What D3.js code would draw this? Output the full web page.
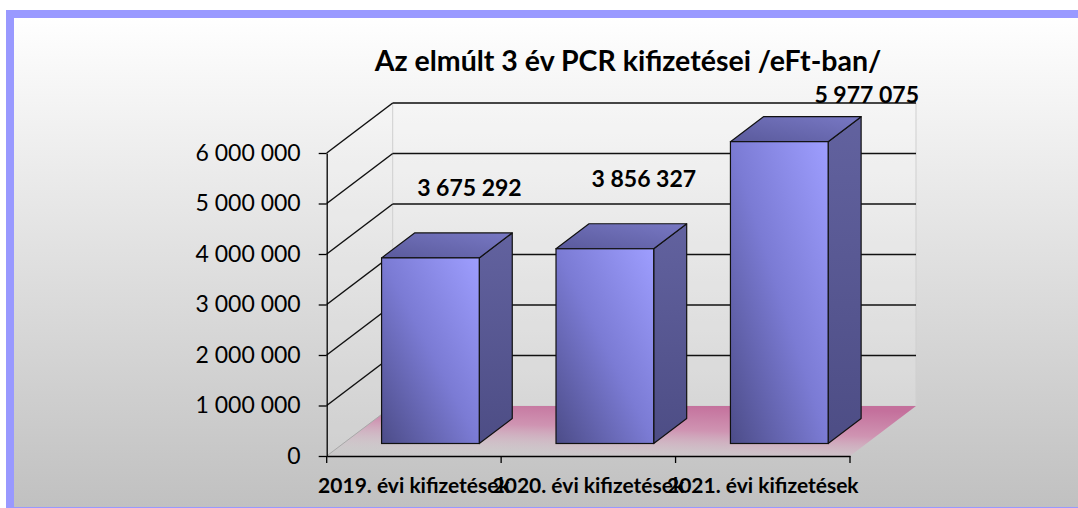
<!DOCTYPE html>
<html>
<head>
<meta charset="utf-8">
<script src="https://cdn.jsdelivr.net/npm/d3@7"></script>
<style>
	body { margin: 0; background: #ffffff; }
	svg { display: block; }
	.tick text { font-family: Lato, sans-serif; fill: #000; }
</style>
</head>
<body>
<svg id="chart"></svg>
<script>
// chart values
let categories = ['2019. évi kifizetések', '2020. évi kifizetések', '2021. évi kifizetések'];
let payments = [3675292, 3856327, 5977075];
let yTicks = [0, 1000000, 2000000, 3000000, 4000000, 5000000, 6000000];
let title = 'Az elmúlt 3 év PCR kifizetései /eFt-ban/';

let width = 1078, height = 508;
let plotLeft = 326.7, plotRight = 850, plotBottom = 456, plotTop = 153;
// 3d depth of the plot (back wall offset)
let depthX = 66, depthY = -50;
let xScale, yScale;
let svg;

let fmt = (d) => d3.format(',')(d).replace(/,/g, ' ');

function makeChart() {
	svg = d3.select('#chart')
		.attr('width', width)
		.attr('height', height);

	let defs = svg.append('defs');

	let bg = defs.append('linearGradient').attr('id', 'bg')
		.attr('x1', 0).attr('y1', 0).attr('x2', 0).attr('y2', 1);
	bg.append('stop').attr('offset', 0).attr('stop-color', '#ffffff');
	bg.append('stop').attr('offset', 1).attr('stop-color', '#c0c0c0');

	let floor = defs.append('linearGradient').attr('id', 'floor')
		.attr('x1', 0.7).attr('y1', 0).attr('x2', 0.3).attr('y2', 1);
	floor.append('stop').attr('offset', 0).attr('stop-color', '#c4709c');
	floor.append('stop').attr('offset', 0.45).attr('stop-color', '#cf94b2');
	floor.append('stop').attr('offset', 1).attr('stop-color', '#d8d0d4').attr('stop-opacity', 0.2);

	let front = defs.append('linearGradient').attr('id', 'front')
		.attr('x1', 0).attr('y1', 1).attr('x2', 1).attr('y2', 0);
	front.append('stop').attr('offset', 0).attr('stop-color', '#4c4c88');
	front.append('stop').attr('offset', 0.5).attr('stop-color', '#7b7bd4');
	front.append('stop').attr('offset', 1).attr('stop-color', '#9e9eff');

	let side = defs.append('linearGradient').attr('id', 'side')
		.attr('x1', 0).attr('y1', 0).attr('x2', 0).attr('y2', 1);
	side.append('stop').attr('offset', 0).attr('stop-color', '#62629f');
	side.append('stop').attr('offset', 1).attr('stop-color', '#4d4d85');

	let topFace = defs.append('linearGradient').attr('id', 'topface')
		.attr('x1', 0).attr('y1', 1).attr('x2', 1).attr('y2', 0);
	topFace.append('stop').attr('offset', 0).attr('stop-color', '#5a5a9c');
	topFace.append('stop').attr('offset', 1).attr('stop-color', '#7878c4');

	// frame
	svg.append('rect')
		.attr('x', 10).attr('y', 14)
		.attr('width', 1100).attr('height', 497)
		.attr('fill', 'url(#bg)')
		.attr('stroke', '#9999ff')
		.attr('stroke-width', 8);

	xScale = d3.scaleBand()
		.domain(categories)
		.range([plotLeft, plotRight])
		.padding(0);

	yScale = d3.scaleLinear()
		.domain([0, 6000000])
		.range([plotBottom, plotTop]);

	let y0 = yScale(0), yTop = yScale(6000000);

	// walls
	svg.append('path')
		.attr('d', `M${plotLeft},${y0}L${plotLeft},${yTop}L${plotLeft + depthX},${yTop + depthY}L${plotLeft + depthX},${y0 + depthY}Z`)
		.attr('fill', '#ffffff').attr('fill-opacity', 0.15);
	svg.append('rect')
		.attr('x', plotLeft + depthX).attr('y', yTop + depthY)
		.attr('width', plotRight - plotLeft).attr('height', y0 - yTop)
		.attr('fill', '#ffffff').attr('fill-opacity', 0.2)
		.attr('stroke', '#cfcfcf').attr('stroke-width', 1);

	// floor
	svg.append('path')
		.attr('d', `M${plotLeft},${y0}L${plotRight},${y0}L${plotRight + depthX},${y0 + depthY}L${plotLeft + depthX},${y0 + depthY}Z`)
		.attr('fill', 'url(#floor)');
	svg.append('line')
		.attr('x1', plotLeft).attr('y1', y0)
		.attr('x2', plotLeft + depthX).attr('y2', y0 + depthY)
		.attr('stroke', '#a8a8a8').attr('stroke-width', 1);

	// gridlines: left wall diagonals and back wall
	let grid = yTicks.filter(d => d > 0);
	svg.selectAll('.gridside').data(grid).enter().append('line')
		.attr('class', 'gridside')
		.attr('x1', plotLeft).attr('y1', d => yScale(d))
		.attr('x2', plotLeft + depthX).attr('y2', d => yScale(d) + depthY)
		.attr('stroke', '#111').attr('stroke-width', 1.5);
	svg.selectAll('.gridback').data(grid).enter().append('line')
		.attr('class', 'gridback')
		.attr('x1', plotLeft + depthX).attr('y1', d => yScale(d) + depthY)
		.attr('x2', plotRight + depthX).attr('y2', d => yScale(d) + depthY)
		.attr('stroke', '#111').attr('stroke-width', 1.5);

	// axes
	let yAxis = d3.axisLeft(yScale)
		.tickValues(yTicks)
		.tickFormat(fmt)
		.tickSize(8)
		.tickSizeOuter(0)
		.tickPadding(18);
	let yAxisGroup = svg.append('g')
		.attr('transform', `translate(${plotLeft},0)`)
		.call(yAxis);
	yAxisGroup.selectAll('text').style('font-size', '23px');
	yAxisGroup.selectAll('line, path').attr('stroke', '#000').attr('stroke-width', 1.3);

	let xAxis = d3.axisBottom(xScale).tickSize(0).tickSizeOuter(0);
	let xAxisGroup = svg.append('g')
		.attr('transform', `translate(0,${y0})`)
		.call(xAxis);
	xAxisGroup.select('.domain').attr('stroke', '#000').attr('stroke-width', 1.3);
	xAxisGroup.selectAll('text')
		.attr('y', 37).attr('dy', null)
		.style('font-size', '21px')
		.style('font-weight', 'bold');

	let edges = [xScale(categories[0])].concat(categories.map(c => xScale(c) + xScale.bandwidth()));
	xAxisGroup.selectAll('.edge').data(edges).enter().append('line')
		.attr('class', 'edge')
		.attr('x1', d => d).attr('x2', d => d)
		.attr('y1', 0).attr('y2', 7)
		.attr('stroke', '#000').attr('stroke-width', 1.3);

	// title
	svg.append('text')
		.attr('x', 628).attr('y', 71)
		.attr('text-anchor', 'middle')
		.style('font-family', 'Lato, sans-serif')
		.style('font-weight', 'bold')
		.style('font-size', '28.5px')
		.text(title);
}

function drawBars() {
	let bw = xScale.bandwidth();
	let barW = bw * 0.56;
	let d0 = 0.25, d1 = 0.75;
	let sx = depthX * (d1 - d0), sy = depthY * (d1 - d0);

	let data = categories.map((c, i) => {
		let x0 = xScale(c) + (bw - barW) / 2 + depthX * d0;
		let yb = yScale(0) + depthY * d0;
		let yt = yScale(payments[i]) + depthY * d0;
		return { cat: c, value: payments[i], x0: x0, x1: x0 + barW, yb: yb, yt: yt };
	});

	let bars = svg.selectAll('.bar').data(data).enter().append('g').attr('class', 'bar');

	bars.append('path')
		.attr('d', d => `M${d.x1},${d.yt}L${d.x1 + sx},${d.yt + sy}L${d.x1 + sx},${d.yb + sy}L${d.x1},${d.yb}Z`)
		.attr('fill', 'url(#side)')
		.attr('stroke', '#111').attr('stroke-width', 1.2).attr('stroke-linejoin', 'round');

	bars.append('path')
		.attr('d', d => `M${d.x0},${d.yt}L${d.x0 + sx},${d.yt + sy}L${d.x1 + sx},${d.yt + sy}L${d.x1},${d.yt}Z`)
		.attr('fill', 'url(#topface)')
		.attr('stroke', '#111').attr('stroke-width', 1.2).attr('stroke-linejoin', 'round');

	bars.append('rect')
		.attr('x', d => d.x0).attr('y', d => d.yt)
		.attr('width', barW).attr('height', d => d.yb - d.yt)
		.attr('fill', 'url(#front)')
		.attr('stroke', '#111').attr('stroke-width', 1.2);

	// value labels, pushed inside the plot if they would run over the top
	let backTop = yScale(6000000) + depthY;
	bars.append('text')
		.each(function(d) {
			let t = d3.select(this);
			let y = d.yt - 62;
			if (y < backTop) {
				t.attr('x', plotRight + depthX + 3).attr('y', backTop).attr('text-anchor', 'end');
			} else {
				t.attr('x', (d.x0 + d.x1) / 2 + 39).attr('y', y).attr('text-anchor', 'middle');
			}
		})
		.style('font-family', 'Lato, sans-serif')
		.style('font-weight', 'bold')
		.style('font-size', '23px')
		.text(d => fmt(d.value));
}

makeChart();
drawBars();
</script>
</body>
</html>
